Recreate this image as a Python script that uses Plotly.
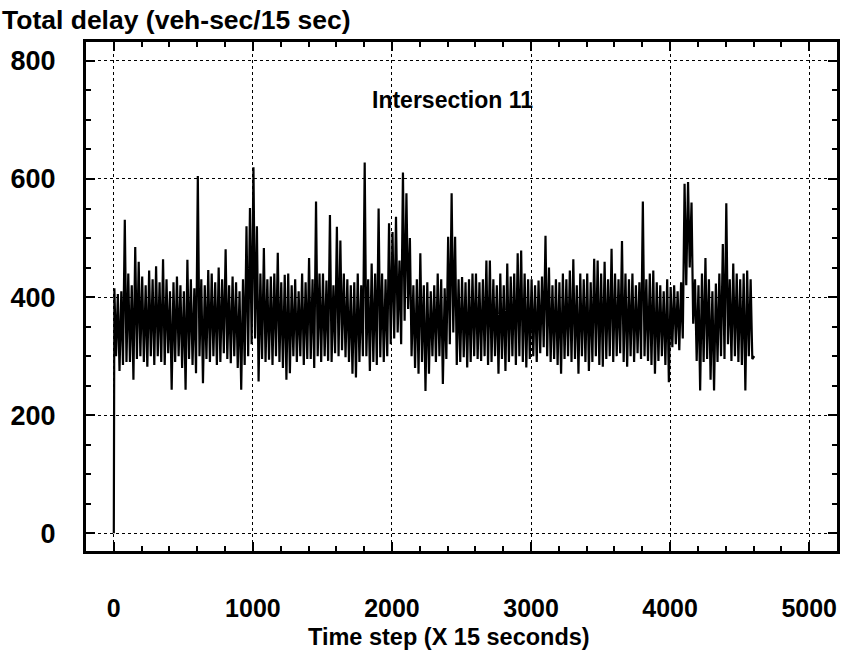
import plotly.graph_objects as go

# Readings from the picture: per 25-step bin, the upper and lower extent of the trace
bin_width = 25
start_value = 0
highs = [
    415, 405, 410, 531,  440, 420, 485, 460,  435, 420, 445, 430,  452, 425, 464, 430,
    410, 425, 435, 420,  410, 463, 430, 415,  605, 430, 420, 446,  440, 425, 450, 430,
    481, 420, 435, 425,  410, 430, 520, 551,  620, 520, 440, 483,  430, 435, 440, 475,
    425, 438, 440, 420,  430, 410, 440, 425,  466, 430, 562, 440,  440, 428, 539, 420,
    519, 496, 440, 430,  420, 425, 440, 420,  628, 430, 457, 440,  550, 440, 430, 525,
    510, 536, 462, 611,  576, 500, 420, 430,  474, 420, 425, 410,  420, 440, 430, 415,
    502, 576, 502, 430,  434, 425, 430, 440,  440, 425, 430, 462,  462, 430, 420, 440,
    420, 457, 435, 440,  474, 479, 440, 430,  430, 420, 428, 435,  504, 450, 420, 430,
    425, 440, 430, 445,  464, 420, 440, 430,  440, 425, 465, 462,  440, 460, 430, 482,
    440, 430, 495, 440,  430, 440, 420, 425,  562, 430, 440, 445,  425, 420, 410, 430,
    417, 420, 410, 425,  592, 595, 560, 430,  420, 440, 466, 430,  410, 423, 440, 490,
    559, 430, 457, 440,  430, 440, 445, 430,
]
lows = [
    300, 275, 285, 290,  290, 260, 295, 300,  290, 282, 300, 285,  300, 290, 285, 305,
    243, 290, 300, 280,  243, 295, 285, 271,  300, 254, 295, 290,  300, 285, 290, 305,
    295, 288, 300, 280,  243, 285, 300, 320,  330, 257, 295, 290,  294, 285, 300, 290,
    280, 260, 271, 300,  290, 300, 285, 295,  295, 280, 300, 290,  300, 292, 290, 305,
    300, 310, 298, 290,  270, 264, 290, 300,  300, 275, 290, 285,  298, 290, 300, 320,
    330, 340, 320, 360,  380, 300, 280, 270,  290, 241, 270, 300,  290, 300, 253, 295,
    320, 340, 285, 290,  298, 281, 290, 300,  295, 292, 300, 285,  290, 300, 270, 295,
    275, 290, 300, 285,  300, 290, 281, 295,  300, 290, 305, 315,  300, 290, 295, 285,
    270, 295, 300, 290,  295, 270, 300, 290,  275, 290, 300, 285,  282, 295, 300, 290,
    300, 305, 290, 282,  300, 290, 305, 295,  300, 292, 285, 270,  292, 300, 285, 256,
    315, 320, 310, 330,  420, 450, 355, 292,  242, 290, 295, 260,  242, 290, 300, 295,
    320, 292, 300, 290,  285, 242, 300, 295,
]
end_step = 4605
end_value = 300

x_ticks = [0, 1000, 2000, 3000, 4000, 5000]
y_ticks = [0, 200, 400, 600, 800]

# assemble the trace: high and low reading within each bin
t = [0]
v = [start_value]
for i, (h, l) in enumerate(zip(highs, lows)):
    t.append(i * bin_width + 4)
    v.append(h)
    t.append(i * bin_width + 16)
    v.append(l)
t.append(end_step)
v.append(end_value)

FONT = "Liberation Sans, Arial, sans-serif"

fig = go.Figure()
fig.add_trace(go.Scatter(x=t, y=v, mode="lines",
                         line=dict(color="black", width=2.2),
                         showlegend=False, hoverinfo="skip"))

axis_common = dict(
    showline=True, linecolor="black", linewidth=3, mirror="ticks",
    ticks="inside", ticklen=9, tickwidth=2, tickcolor="black",
    showgrid=True, gridcolor="black", gridwidth=1, griddash="dot",
    zeroline=False, automargin=False,
)

fig.update_xaxes(range=[-200, 5200], tickvals=x_ticks,
                 ticktext=[str(x) for x in x_ticks],
                 ticklabelstandoff=33,
                 tickfont=dict(family=FONT, size=25, color="black", weight="bold"),
                 minor=dict(dtick=200, tick0=0, ticks="inside", ticklen=5,
                            tickwidth=2, tickcolor="black", showgrid=False),
                 **axis_common)
fig.update_yaxes(range=[-30, 832], tickvals=y_ticks,
                 ticktext=[str(y) for y in y_ticks],
                 ticklabelstandoff=22,
                 tickfont=dict(family=FONT, size=27, color="black", weight="bold"),
                 minor=dict(dtick=50, tick0=0, ticks="inside", ticklen=5,
                            tickwidth=2, tickcolor="black", showgrid=False),
                 **axis_common)

fig.add_annotation(text="Total delay (veh-sec/15 sec)", xref="paper", yref="paper",
                   x=-0.114, y=1.043, xanchor="left", yanchor="middle", showarrow=False,
                   font=dict(family=FONT, size=26.5, color="black", weight="bold"))
fig.add_annotation(text="Intersection 11", xref="paper", yref="paper",
                   x=0.488, y=0.886, xanchor="center", yanchor="middle", showarrow=False,
                   font=dict(family=FONT, size=23, color="black", weight="bold"))
fig.add_annotation(text="Time step (X 15 seconds)", xref="paper", yref="paper",
                   x=0.484, y=-0.168, xanchor="center", yanchor="middle", showarrow=False,
                   font=dict(family=FONT, size=23.5, color="black", weight="bold"))

fig.update_layout(width=841, height=659,
                  margin=dict(l=86, r=4, t=42, b=108),
                  paper_bgcolor="white", plot_bgcolor="white")

fig.write_html("out.html", config={"displayModeBar": False},
               post_script="document.body.style.margin='0';document.body.style.overflow='hidden';")
